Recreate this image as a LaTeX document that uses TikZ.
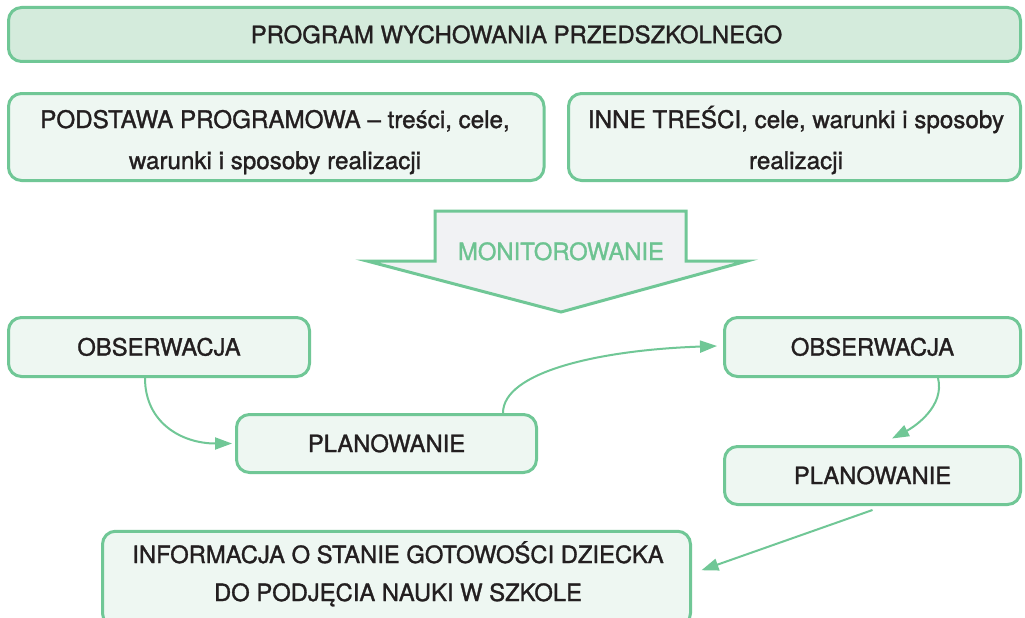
\documentclass[tikz,border=0pt]{standalone}
\usepackage{fontspec}
\setmainfont{TeX Gyre Heros}[FakeBold=1.3]
\usetikzlibrary{arrows.meta,calc}
\definecolor{gborder}{HTML}{70C796}
\definecolor{gtop}{HTML}{D4EBDC}
\definecolor{gbox}{HTML}{EEF7F2}
\definecolor{garrow}{HTML}{F1F2F4}
\definecolor{gtext}{HTML}{231F20}
\definecolor{gmon}{HTML}{6DC391}
\begin{document}
\begin{tikzpicture}[x=1pt,y=-1pt,
  box/.style={draw=gborder, line width=3pt, rounded corners=13pt, fill=gbox,
    text=gtext, inner sep=0pt, align=center},
  title/.style={font=\fontsize{23.9}{41}\selectfont},
  upper/.style={font=\fontsize{24.2}{41}\selectfont},
  lower/.style={font=\fontsize{23.8}{38}\selectfont},
  capsU/.style={text height=17.2pt, text depth=0pt},
  capsL/.style={text height=17.1pt, text depth=0pt},
  txt/.style={text=gtext, inner sep=0pt, anchor=base},
  conn/.style={draw=gborder, line width=2pt, -{Triangle[length=17pt,width=12pt]}}]
\useasboundingbox (0,0) rectangle (1025,618);
\clip (0,0) rectangle (1025,618);
\fill[white] (0,0) rectangle (1025,618);

% top title
\node[box, title, capsU, fill=gtop, minimum width=1012pt, minimum height=54pt] (prog) at (514.5,34.5)
  {\hspace*{4pt}PROGRAM WYCHOWANIA PRZEDSZKOLNEGO};

% two content boxes
\node[box, minimum width=535.5pt, minimum height=87pt] (pods) at (276.25,137) {};
\node[txt, upper] (pods1) at (275,128) {PODSTAWA PROGRAMOWA – treści, cele,};
\node[txt, upper] (pods2) at (275,169) {warunki i sposoby realizacji};

\node[box, minimum width=452pt, minimum height=87pt] (inne) at (794.5,137) {};
\node[txt, upper] (inne1) at (796,128) {INNE TREŚCI, cele, warunki i sposoby};
\node[txt, upper] (inne2) at (796,169) {realizacji};

% big arrow
\draw[draw=gborder, line width=3pt, fill=garrow]
  (435,211) -- (686,211) -- (686,261) -- (747,261) -- (561,312) -- (367,261) -- (435,261) -- cycle;
\node[txt, lower, text=gmon] (mon) at (561,260) {MONITOROWANIE};

% process boxes
\node[box, lower, capsL, minimum width=301pt, minimum height=59pt] (obs1) at (159,347) {OBSERWACJA};
\node[box, lower, capsL, minimum width=300pt, minimum height=58pt] (plan1) at (386.5,443.5) {PLANOWANIE};
\node[box, lower, capsL, minimum width=296pt, minimum height=59pt] (obs2) at (872.5,347) {OBSERWACJA};
\node[box, lower, capsL, minimum width=296pt, minimum height=58pt] (plan2) at (872.5,475.5) {PLANOWANIE};

\node[box, minimum width=588pt, minimum height=95pt] (info) at (396.5,578.75) {};
\node[txt, lower] (info1) at (398,563) {INFORMACJA O STANIE GOTOWOŚCI DZIECKA};
\node[txt, lower] (info2) at (398,601) {DO PODJĘCIA NAUKI W SZKOLE};

% connectors
\draw[conn] ([xshift=-14pt]obs1.south) .. controls +(0,45) and +(-50,0) .. ([xshift=-3pt]plan1.west);
\draw[conn] ([xshift=116.5pt]plan1.north) .. controls +(0,-41) and +(-118,4) .. ([xshift=-6pt,yshift=1pt]obs2.west);
\draw[conn] ([xshift=65.5pt]obs2.south) .. controls +(7,28) and +(23,-12) .. ([xshift=19.5pt,yshift=6.5pt]plan2.north);
\draw[conn] ([yshift=-4pt]plan2.south) -- ($(info.north east)+(9.5,40.5)$);
\end{tikzpicture}
\end{document}
